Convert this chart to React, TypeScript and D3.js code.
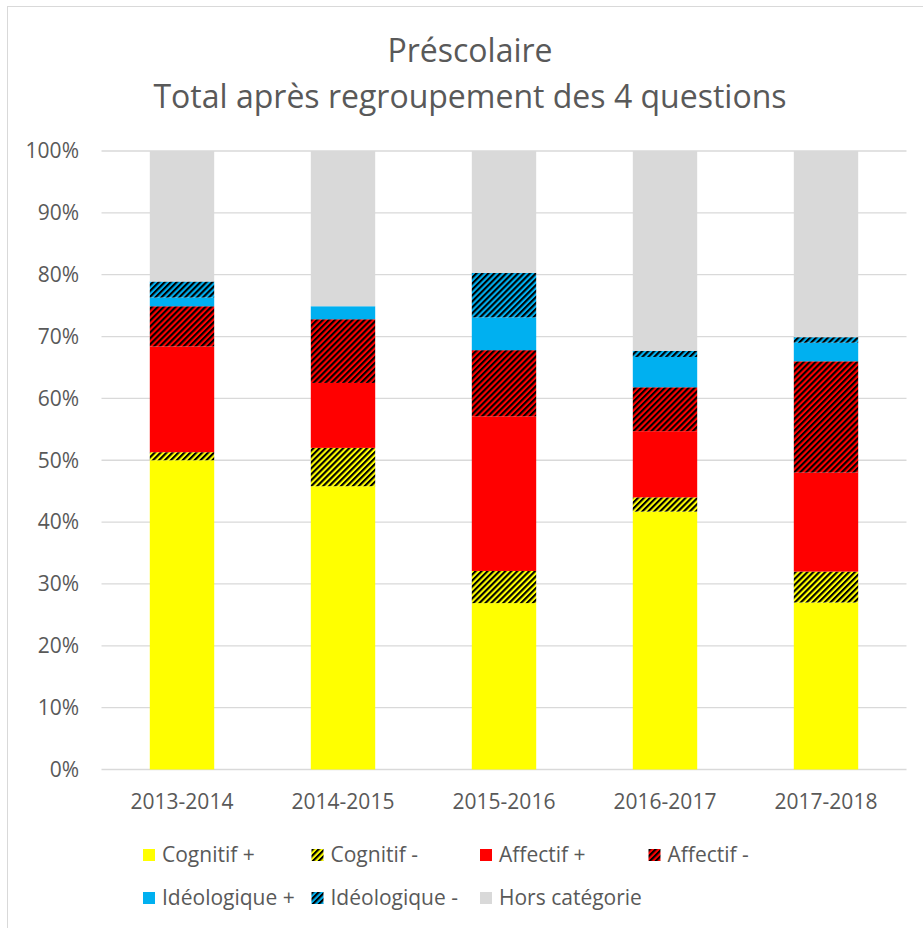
import React, { useEffect, useRef } from "react";
import * as d3 from "d3";

const years = ["2013-2014", "2014-2015", "2015-2016", "2016-2017", "2017-2018"];
const seriesNames = ["Cognitif +", "Cognitif -", "Affectif +", "Affectif -", "Idéologique +", "Idéologique -", "Hors catégorie"];
const cognitifPlus = [50.0, 45.8, 26.9, 41.7, 27.0];
const cognitifMinus = [1.3, 6.2, 5.2, 2.3, 5.0];
const affectifPlus = [17.1, 10.5, 25.0, 10.7, 16.0];
const affectifMinus = [6.5, 10.3, 10.7, 7.1, 18.0];
const ideoPlus = [1.4, 2.1, 5.3, 4.9, 3.0];
const ideoMinus = [2.6, 0, 7.2, 1.0, 0.9];
const horsCategorie = [21.1, 25.1, 19.7, 32.3, 30.1];
const yTicks = [0, 10, 20, 30, 40, 50, 60, 70, 80, 90, 100];

const App = () => {
  const ref = useRef<HTMLDivElement>(null);

  useEffect(() => {
    const container = ref.current;
    if (!container) return;
    container.innerHTML = "";

    const W = 923;
    const H = 928;
    const textColor = "#595959";
    const font = "'Open Sans', sans-serif";

    const allSeries = [cognitifPlus, cognitifMinus, affectifPlus, affectifMinus, ideoPlus, ideoMinus, horsCategorie];
    const table = years.map((y, i) => {
      const row: any = { year: y };
      seriesNames.forEach((s, j) => (row[s] = allSeries[j][i]));
      return row;
    });

    // base colour + whether it's hatched (dark upward diagonal)
    const styles = [
      { color: "#FFFF00", hatch: false },
      { color: "#FFFF00", hatch: true },
      { color: "#FF0000", hatch: false },
      { color: "#FF0000", hatch: true },
      { color: "#00B0F0", hatch: false },
      { color: "#00B0F0", hatch: true },
      { color: "#D9D9D9", hatch: false },
    ];

    const x = d3.scaleBand().domain(years).range([101.5, 906.5]).paddingInner(0.6).paddingOuter(0.3);
    const y = d3.scaleLinear().domain([0, 100]).range([769.5, 151]);

    const svg = d3.create("svg")
      .attr("width", W)
      .attr("height", H)
      .attr("style", "position:absolute; left:0; top:0; display:block; background:#fff;");

    const defs = svg.append("defs");
    const hw = 4.2;
    styles.forEach((s, i) => {
      if (!s.hatch) return;
      const p = defs.append("pattern")
        .attr("id", `hatch${i}`)
        .attr("patternUnits", "userSpaceOnUse")
        .attr("width", hw)
        .attr("height", hw)
        .attr("patternTransform", "rotate(45)");
      p.append("rect").attr("width", hw).attr("height", hw).attr("fill", s.color);
      p.append("rect").attr("width", hw / 2).attr("height", hw).attr("fill", "#000");
    });
    const fillOf = (i: number) => (styles[i].hatch ? `url(#hatch${i})` : styles[i].color);

    // chart border
    svg.append("rect")
      .attr("x", 7.5).attr("y", 6.5)
      .attr("width", 940).attr("height", 940)
      .attr("fill", "none")
      .attr("stroke", "#d9d9d9");

    // title
    const title = svg.append("text")
      .attr("text-anchor", "middle")
      .attr("font-family", font)
      .attr("font-size", 32)
      .attr("fill", textColor);
    title.append("tspan").attr("x", 470).attr("y", 62).text("Préscolaire");
    title.append("tspan").attr("x", 470).attr("y", 108).text("Total après regroupement des 4 questions");

    // gridlines
    svg.append("g")
      .selectAll("line")
      .data(yTicks)
      .join("line")
      .attr("x1", 101.5).attr("x2", 906.5)
      .attr("y1", d => y(d)).attr("y2", d => y(d))
      .attr("stroke", "#d9d9d9")
      .attr("stroke-width", 1.3);

    // y labels
    svg.append("g")
      .selectAll("text")
      .data(yTicks)
      .join("text")
      .attr("x", 79)
      .attr("y", d => y(d))
      .attr("dy", "0.35em")
      .attr("text-anchor", "end")
      .attr("font-family", font)
      .attr("font-size", 21)
      .attr("fill", textColor)
      .text(d => `${d}%`);

    // bars
    const stacked = d3.stack().keys(seriesNames)(table);
    svg.append("g")
      .selectAll("g")
      .data(stacked)
      .join("g")
      .attr("fill", (d, i) => fillOf(i))
      .selectAll("rect")
      .data(d => d)
      .join("rect")
      .attr("x", d => x(d.data.year as string)!)
      .attr("width", x.bandwidth())
      .attr("y", d => y(d[1]))
      .attr("height", d => y(d[0]) - y(d[1]));

    // x labels
    svg.append("g")
      .selectAll("text")
      .data(years)
      .join("text")
      .attr("x", d => x(d)! + x.bandwidth() / 2)
      .attr("y", 809)
      .attr("text-anchor", "middle")
      .attr("font-family", font)
      .attr("font-size", 21)
      .attr("fill", textColor)
      .text(d => d);

    // legend
    const legend = svg.append("g")
      .selectAll("g")
      .data(seriesNames)
      .join("g")
      .attr("transform", (d, i) => {
        const col = i < 4 ? i : i - 4;
        const row = i < 4 ? 0 : 1;
        return `translate(${143 + col * 168.5},${855 + row * 43})`;
      });
    legend.append("rect")
      .attr("x", 0).attr("y", -6)
      .attr("width", 12).attr("height", 12)
      .attr("fill", (d, i) => fillOf(i));
    legend.append("text")
      .attr("x", 19)
      .attr("dy", "0.35em")
      .attr("font-family", font)
      .attr("font-size", 21)
      .attr("fill", textColor)
      .text(d => d);

    container.appendChild(svg.node()!);
  }, []);

  return <div ref={ref} />;
};

export default App;
